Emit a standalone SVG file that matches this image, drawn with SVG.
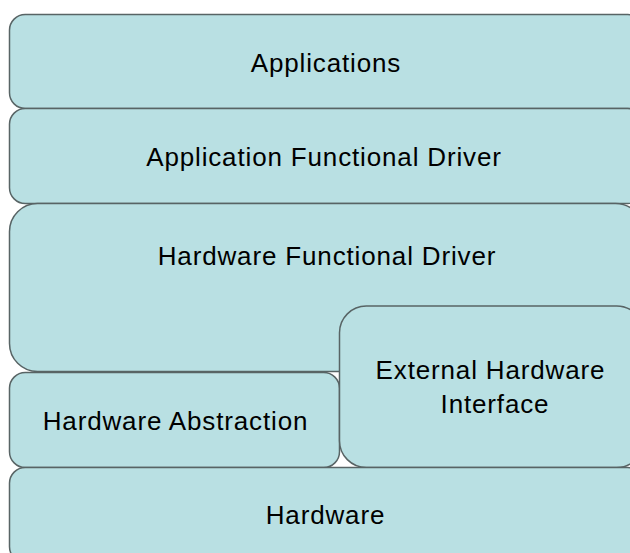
<svg xmlns="http://www.w3.org/2000/svg" width="630" height="553" viewBox="0 0 630 553">
<style>
.box{fill:#B9E0E3;stroke:#586465;stroke-width:1.5}
.lbl{font-family:"Liberation Sans",Arial,sans-serif;font-size:26px;letter-spacing:0.85px;fill:#000;text-anchor:middle}
</style>
<rect width="630" height="553" fill="#fff"/>
<g id="applications">
<rect class="box" x="9.5" y="14.5" width="634" height="94" rx="15.7"/>
<text class="lbl" x="326" y="72">Applications</text>
</g>
<g id="application-functional-driver">
<rect class="box" x="9.5" y="108.5" width="634" height="95" rx="15.8"/>
<text class="lbl" x="324" y="166">Application Functional Driver</text>
</g>
<g id="hardware-functional-driver">
<rect class="box" x="9.5" y="203.5" width="634" height="168" rx="28"/>
<text class="lbl" x="327" y="265">Hardware Functional Driver</text>
</g>
<g id="hardware-abstraction">
<rect class="box" x="9.5" y="372.5" width="330" height="95" rx="15.8"/>
<text class="lbl" x="175.5" y="430">Hardware Abstraction</text>
</g>
<g id="external-hardware-interface">
<rect class="box" x="339.5" y="306" width="304" height="161.5" rx="26.8"/>
<text class="lbl" x="490.5" y="379">External Hardware</text>
<text class="lbl" x="495" y="413">Interface</text>
</g>
<g id="hardware">
<rect class="box" x="9.5" y="467.5" width="634" height="95" rx="15.8"/>
<text class="lbl" x="325.5" y="524">Hardware</text>
</g>
<g id="connectors"/>
</svg>
